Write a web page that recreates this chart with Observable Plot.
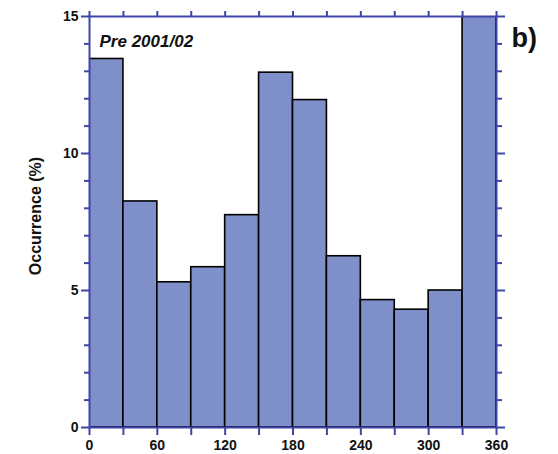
<!DOCTYPE html>
<html><head><meta charset="utf-8">
<script src="https://cdn.jsdelivr.net/npm/d3@7"></script>
<script src="https://cdn.jsdelivr.net/npm/@observablehq/plot@0.6"></script>
<style>body{margin:0;background:#fff}</style>
</head><body><div id="chart"></div>
<script>
const binStart = [0,30,60,90,120,150,180,210,240,270,300,330];
const binEnd   = [30,60,90,120,150,180,210,240,270,300,330,360];
const occurrence = [13.45,8.25,5.3,5.85,7.75,12.95,11.95,6.25,4.65,4.3,5.0,15.0];
const xTicks = [0,30,60,90,120,150,180,210,240,270,300,330,360];
const xLabelTicks = [0,60,120,180,240,300,360];
const yMajor = [0,5,10,15];
const yMinor = d3.range(0,16,1).filter(v => v % 5 !== 0);
const panelTitle = "Pre 2001/02";
const panelTag = "b)";
const yLabel = "Occurrence (%)";

const data = binStart.map((s,i)=>({x1:s,x2:binEnd[i],y:occurrence[i]}));
const blue = "#3c45a8";
const font = "Liberation Sans, Arial, sans-serif";

const chart = Plot.plot({
  width: 558, height: 454,
  marginLeft: 89, marginRight: 62, marginTop: 16, marginBottom: 27,
  x: {domain:[0,360]},
  y: {domain:[0,15]},
  style: {fontFamily: font, fontWeight: "bold", fontSize: "14px", color:"#111"},
  marks: [
    Plot.rectY(data, {x1:"x1", x2:"x2", y:"y", fill:"#7f8fc9", stroke:"#000", strokeWidth:1.6, clip:true}),
    Plot.axisX({anchor:"bottom", ticks:xTicks, tickFormat: d => xLabelTicks.includes(d) ? String(d) : "", tickSize:8, tickPadding:5, stroke:blue, strokeWidth:2, label:null, fontSize:14}),
    Plot.axisX({anchor:"top", ticks:xTicks, tickFormat:()=>"", tickSize:6, stroke:blue, strokeWidth:2, label:null}),
    Plot.axisY({anchor:"left", ticks:yMajor, tickSize:8, tickPadding:3, stroke:blue, strokeWidth:2, label:null, fontSize:14}),
    Plot.axisY({anchor:"left", ticks:yMinor, tickFormat:()=>"", tickSize:5, stroke:blue, strokeWidth:2, label:null}),
    Plot.axisY({anchor:"right", ticks:yMajor, tickFormat:()=>"", tickSize:8, stroke:blue, strokeWidth:2, label:null}),
    Plot.axisY({anchor:"right", ticks:yMinor, tickFormat:()=>"", tickSize:5, stroke:blue, strokeWidth:2, label:null}),
    Plot.frame({stroke:blue, strokeWidth:2}),
    Plot.text([yLabel], {text:d=>d, frameAnchor:"left", dx:-54, dy:-6, rotate:-90, textAnchor:"middle", fontSize:16, fontWeight:"bold", fill:"#111"}),
    Plot.text([panelTitle], {text:d=>d, frameAnchor:"top-left", dx:10, dy:18, textAnchor:"start", fontSize:17, fontWeight:"bold", fontStyle:"italic", fill:"#111"}),
    Plot.text([panelTag], {text:d=>d, frameAnchor:"top-right", dx:15, dy:11, textAnchor:"start", fontSize:27, fontWeight:"bold", fill:"#111"})
  ]
});
document.getElementById("chart").append(chart);
</script>
</body></html>
